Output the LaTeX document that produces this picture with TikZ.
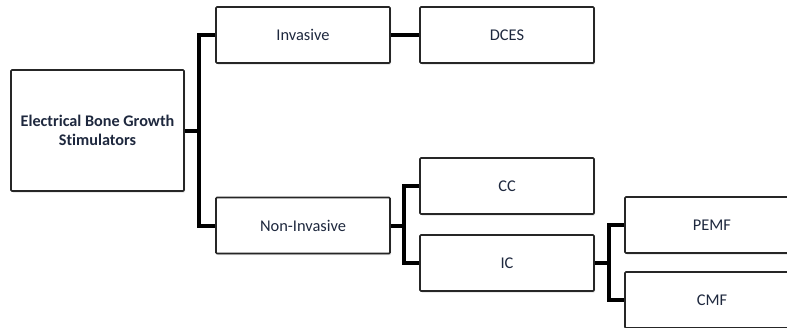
\documentclass[tikz,border=0pt]{standalone}
\usepackage{fontspec}
\setmainfont{Carlito}[Ligatures=NoCommon]
\usetikzlibrary{shadows}
\definecolor{txtblue}{RGB}{30,40,62}
\tikzset{
	box/.style={draw=black!85, line width=1.6pt, fill=white, rounded corners=1pt,
		minimum width=174pt, minimum height=56pt, text=txtblue,
		font=\fontsize{16.4}{19.5}\selectfont,
		drop shadow={opacity=.25, shadow xshift=1.2pt, shadow yshift=-1.5pt}},
	rootbox/.style={box, minimum width=173pt, minimum height=121pt,
		align=center, font=\fontsize{16.2}{19.5}\selectfont\bfseries},
	link/.style={line width=4pt, black},
}
\begin{document}
\begin{tikzpicture}[x=1pt, y=-1pt]
	\clip (0,0) rectangle (787,327);
	% boxes
	\node[rootbox] (root)   at (97.5,130.5) {Electrical Bone Growth\\Stimulators};
	\node[box]     (inv)    at (303,35)     {Invasive};
	\node[box]     (dces)   at (507,35)     {DCES};
	\node[box]     (noninv) at (303,225.5)  {Non-Invasive};
	\node[box]     (cc)     at (507,186)    {CC};
	\node[box]     (ic)     at (507,263)    {IC};
	\node[box]     (pemf)   at (712,225)    {PEMF};
	\node[box]     (cmf)    at (712,300)    {CMF};
	% connectors
	\draw[link] (root.east) -- ++(16,0);
	\draw[link] (inv.west) -- ++(-16,0) |- (noninv.west);
	\draw[link] (inv.east) -- (dces.west);
	\draw[link] (noninv.east) -- ++(15,0);
	\draw[link] (cc.west) -- ++(-15,0) |- (ic.west);
	\draw[link] (ic.east) -- ++(16,0);
	\draw[link] (pemf.west) -- ++(-15,0) |- (cmf.west);
\end{tikzpicture}
\end{document}
